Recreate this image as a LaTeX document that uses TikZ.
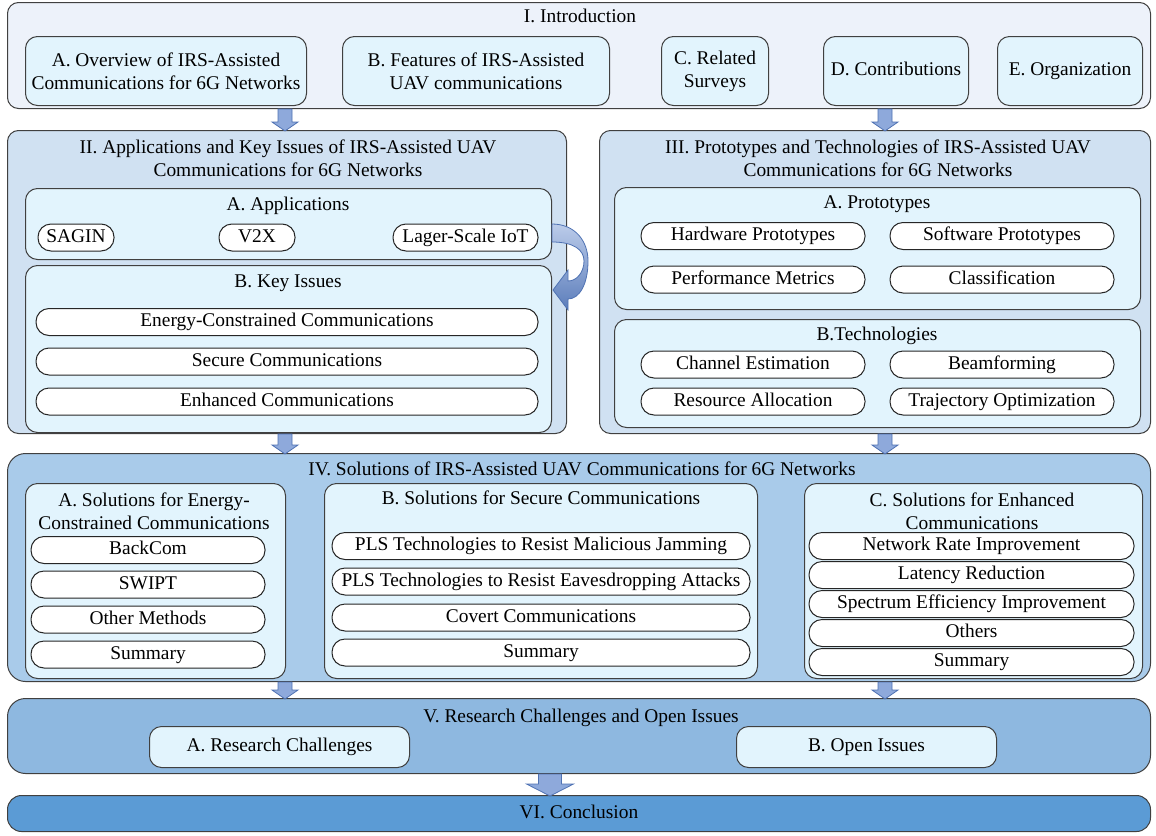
\documentclass[tikz,border=0pt]{standalone}
\usepackage{fontspec}
\setmainfont{Liberation Serif}
\usepackage{tikz}
\usetikzlibrary{positioning}
\definecolor{cI}{HTML}{EDF2FA}
\definecolor{cSub}{HTML}{E2F4FD}
\definecolor{cII}{HTML}{D0E1F2}
\definecolor{cIV}{HTML}{A9CBEA}
\definecolor{cV}{HTML}{8EB8E0}
\definecolor{cVI}{HTML}{5B9BD5}
\definecolor{cArr}{HTML}{8EA9DB}
\definecolor{cArrLine}{HTML}{4F72B3}
\begin{document}
\begin{tikzpicture}[x=1pt,y=-1pt,
  every node/.style={font=\fontsize{19.4}{23}\selectfont, align=center, inner sep=0pt},
  oneline/.style={text height=13.5pt, text depth=4.5pt},
  sec/.style={draw=black!75, line width=1pt, rounded corners=11pt, anchor=north west},
  sub/.style={draw=black!75, line width=1pt, rounded corners=12pt, fill=cSub, anchor=north west},
  pill/.style={oneline, draw=black!85, line width=1pt, rounded corners=13pt, fill=white, minimum height=27pt},
  arrstyle/.style={draw=cArrLine, fill=cArr, line width=0.8pt},
  pics/darr/.style n args={4}{code={
    \draw[arrstyle] (-#1,0) -- (-#1,#3-#4) -- (-#2,#3-#4) -- (0,#3) -- (#2,#3-#4) -- (#1,#3-#4) -- (#1,0) -- cycle;}},
  pics/curvarr/.style={code={
    \draw[draw=cArrLine, line width=0.8pt, top color=cArr!60!white, bottom color=cArrLine!80!cArr]
      (0,0) .. controls (23,0) and (36,17) .. (36,37) .. controls (36,61) and (27,75) .. (16,75)
      -- (16,86) -- (1,66) -- (16,46) -- (16,57) .. controls (25,57) and (32,48) .. (32,37)
      .. controls (32,26) and (22,18) .. (0,18) -- cycle;}}
]
\useasboundingbox (0,0) rectangle (1156,835);

\node[sec, fill=cI, minimum width=1143, minimum height=106] (I) at (7,2) {};
\node[oneline] (It) at (580,18) {I. Introduction};
\node[sub, minimum width=281, minimum height=69] (IA) at (25,36) {A. Overview of IRS-Assisted\\Communications for 6G Networks};
\node[sub, minimum width=267, minimum height=69] (IB) at (342,36) {B. Features of IRS-Assisted\\UAV communications};
\node[sub, minimum width=107, minimum height=69] (IC) at (661,36) {C. Related\\Surveys};
\node[sub, oneline, minimum width=145, minimum height=69] (ID) at (823,36) {D. Contributions};
\node[sub, oneline, minimum width=145, minimum height=69] (IE) at (997,36) {E. Organization};

\node[sec, fill=cII, minimum width=559, minimum height=303] (II) at (7,130) {};
\node (IIt) at (288,158.5) {II. Applications and Key Issues of IRS-Assisted UAV\\Communications for 6G Networks};
\node[sub, minimum width=526, minimum height=71] (IIA) at (25,188) {};
\node[oneline] (IIAt) at (288,206) {A. Applications};
\node[pill, minimum width=76] (sagin) at (76,237.5) {SAGIN};
\node[pill, minimum width=76] (v2x) at (257,237.5) {V2X};
\node[pill, minimum width=145] (iot) at (465.5,237.5) {Lager-Scale IoT};
\node[sub, minimum width=526, minimum height=167] (IIB) at (25,265) {};
\node[oneline] (IIBt) at (288,283) {B. Key Issues};
\node[pill, minimum width=502] (energy) at (287,322) {Energy-Constrained Communications};
\node[pill, minimum width=502] (secure) at (287,361.5) {Secure Communications};
\node[pill, minimum width=502] (enhanced) at (287,401.5) {Enhanced Communications};

\node[sec, fill=cII, minimum width=551, minimum height=303] (III) at (599,130) {};
\node (IIIt) at (878,158.5) {III. Prototypes and Technologies of IRS-Assisted UAV\\Communications for 6G Networks};
\node[sub, minimum width=526, minimum height=122] (IIIA) at (614,187) {};
\node[oneline] (IIIAt) at (877,204) {A. Prototypes};
\node[pill, minimum width=224] (hardware) at (753,236) {Hardware Prototypes};
\node[pill, minimum width=224] (software) at (1002,236) {Software Prototypes};
\node[pill, minimum width=224] (metrics) at (753,279.5) {Performance Metrics};
\node[pill, minimum width=224] (classif) at (1002,279.5) {Classification};
\node[sub, minimum width=526, minimum height=108] (IIIB) at (614,319) {};
\node[oneline] (IIIBt) at (877,336) {B.Technologies};
\node[pill, minimum width=224] (channel) at (753,364.5) {Channel Estimation};
\node[pill, minimum width=224] (beam) at (1002,364.5) {Beamforming};
\node[pill, minimum width=224] (resource) at (753,401.5) {Resource Allocation};
\node[pill, minimum width=224] (traj) at (1002,401.5) {Trajectory Optimization};

\node[sec, fill=cIV, minimum width=1143, minimum height=228, rounded corners=18] (IV) at (7,453) {};
\node[oneline] (IVt) at (582,471) {IV. Solutions of IRS-Assisted UAV Communications for 6G Networks};
\node[sub, minimum width=260, minimum height=195] (IVA) at (25,483) {};
\node (IVAt) at (154,511.5) {A. Solutions for Energy-\\Constrained Communications};
\node[pill, minimum width=234] (backcom) at (148,550) {BackCom};
\node[pill, minimum width=234] (swipt) at (148,584.5) {SWIPT};
\node[pill, minimum width=234] (other) at (148,619.5) {Other Methods};
\node[pill, minimum width=234] (sumA) at (148,654.5) {Summary};
\node[sub, minimum width=433, minimum height=195] (IVB) at (324,483) {};
\node[oneline] (IVBt) at (541,500) {B. Solutions for Secure Communications};
\node[pill, minimum width=418] (jamming) at (541,546) {PLS Technologies to Resist Malicious Jamming};
\node[pill, minimum width=418] (eaves) at (541,581.5) {PLS Technologies to Resist Eavesdropping Attacks};
\node[pill, minimum width=418] (covert) at (541,617.5) {Covert Communications};
\node[pill, minimum width=418] (sumB) at (541,652.5) {Summary};
\node[sub, minimum width=338, minimum height=195] (IVC) at (804,483) {};
\node (IVCt) at (972,511.5) {C. Solutions for Enhanced\\Communications};
\node[pill, minimum width=325] (rate) at (971.5,546) {Network Rate Improvement};
\node[pill, minimum width=325] (latency) at (971.5,575) {Latency Reduction};
\node[pill, minimum width=325] (spectrum) at (971.5,604) {Spectrum Efficiency Improvement};
\node[pill, minimum width=325] (others) at (971.5,633) {Others};
\node[pill, minimum width=325] (sumC) at (971.5,662) {Summary};

\node[sec, fill=cV, minimum width=1143, minimum height=75, rounded corners=18] (V) at (7,698) {};
\node[oneline] (Vt) at (581,718) {V. Research Challenges and Open Issues};
\node[sub, oneline, minimum width=260, minimum height=41] (VA) at (149,726) {A. Research Challenges};
\node[sub, oneline, minimum width=260, minimum height=41] (VB) at (736,726) {B. Open Issues};

\node[sec, oneline, fill=cVI, minimum width=1143, minimum height=36, rounded corners=14] (VI) at (7,795) {VI. Conclusion};

\coordinate (left) at (285,0);
\coordinate (right) at (885,0);
\coordinate (mid) at (550,0);
\pic at (I.south -| left) {darr={7}{13}{22}{9}};
\pic at (I.south -| right) {darr={7}{13}{22}{9}};
\pic at (II.south -| left) {darr={7}{13}{20}{9}};
\pic at (III.south -| right) {darr={7}{13}{20}{9}};
\pic at (IV.south -| left) {darr={7}{13}{17}{9}};
\pic at (IV.south -| right) {darr={7}{13}{17}{9}};
\pic at (V.south -| mid) {darr={11.5}{23.5}{22}{12}};
\pic at (IIA.east) {curvarr};

\end{tikzpicture}
\end{document}
